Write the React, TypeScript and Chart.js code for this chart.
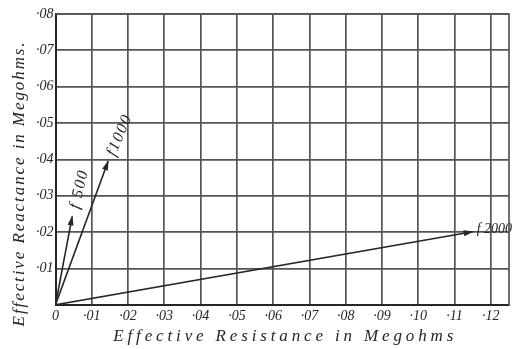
import React, { useEffect, useRef } from "react";
import { Chart, registerables } from "chart.js";

Chart.register(...registerables);

// ---- data ----
const xTickValues = [0, 0.01, 0.02, 0.03, 0.04, 0.05, 0.06, 0.07, 0.08, 0.09, 0.1, 0.11, 0.12];
const xTickLabels = ["0", "·01", "·02", "·03", "·04", "·05", "·06", "·07", "·08", "·09", "·10", "·11", "·12"];
const yTickValues = [0, 0.01, 0.02, 0.03, 0.04, 0.05, 0.06, 0.07, 0.08];
const yTickLabels = ["", "·01", "·02", "·03", "·04", "·05", "·06", "·07", "·08"];
const vectorNames = ["f 500", "f1000", "f 2000"];
const resistance = [0.0046, 0.0145, 0.115];
const reactance = [0.0243, 0.0395, 0.0201];
const xTitle = "Effective Resistance in Megohms";
const yTitle = "Effective Reactance in Megohms.";

// ---- styles ----
const INK = "#262626";
const GRID = "#555555";
const FONT = "'Liberation Serif', 'Times New Roman', serif";
const labelAlong = [true, true, false];
const labelSize = [16, 16, 14];
const labelSpacing = [1.5, 1.5, 0];

function spacedWidth(ctx: CanvasRenderingContext2D, text: string, sp: number) {
  let w = 0;
  for (const ch of text) w += ctx.measureText(ch).width;
  return w + sp * (text.length - 1);
}

function drawSpaced(ctx: CanvasRenderingContext2D, text: string, x: number, y: number, sp: number, align: "center" | "left") {
  const total = spacedWidth(ctx, text, sp);
  let cx = align === "center" ? x - total / 2 : x;
  ctx.textAlign = "left";
  for (const ch of text) {
    ctx.fillText(ch, cx, y);
    cx += ctx.measureText(ch).width + sp;
  }
}

const framePlugin = {
  id: "frame",
  afterDraw(chart: any) {
    const { ctx, chartArea: a } = chart;
    ctx.save();
    ctx.strokeStyle = GRID;
    ctx.lineWidth = 1.7;
    ctx.beginPath();
    ctx.moveTo(a.left, a.top);
    ctx.lineTo(a.right, a.top);
    ctx.lineTo(a.right, a.bottom);
    ctx.stroke();
    ctx.restore();

    // axis titles
    ctx.save();
    ctx.fillStyle = INK;
    ctx.font = `italic 17px ${FONT}`;
    ctx.textBaseline = "alphabetic";
    const xTarget = 340;
    const xsp = (xTarget - spacedWidth(ctx, xTitle, 0)) / (xTitle.length - 1);
    drawSpaced(ctx, xTitle, (a.left + a.right) / 2 + 1, a.bottom + 36, xsp, "center");
    ctx.translate(24, (a.top + a.bottom) / 2 + 25);
    ctx.rotate(-Math.PI / 2);
    const yTarget = 284;
    const ysp = (yTarget - spacedWidth(ctx, yTitle, 0)) / (yTitle.length - 1);
    drawSpaced(ctx, yTitle, 0, 0, ysp, "center");
    ctx.restore();
  },
};

const arrowPlugin = {
  id: "arrows",
  afterDatasetsDraw(chart: any) {
    const ctx: CanvasRenderingContext2D = chart.ctx;
    chart.data.datasets.forEach((_ds: any, i: number) => {
      const meta = chart.getDatasetMeta(i);
      const p0 = meta.data[0];
      const p1 = meta.data[1];
      const ang = Math.atan2(p1.y - p0.y, p1.x - p0.x);
      ctx.save();
      ctx.fillStyle = INK;
      ctx.translate(p1.x, p1.y);
      ctx.rotate(ang);
      ctx.beginPath();
      ctx.moveTo(1, 0);
      ctx.lineTo(-9, -3);
      ctx.lineTo(-9, 3);
      ctx.closePath();
      ctx.fill();
      ctx.restore();

      ctx.save();
      ctx.fillStyle = INK;
      ctx.font = `italic ${labelSize[i]}px ${FONT}`;
      ctx.textBaseline = "middle";
      if (labelAlong[i]) {
        const dx = Math.cos(ang), dy = Math.sin(ang);
        ctx.translate(p1.x + dx * 27 + 2, p1.y + dy * 27);
        ctx.rotate(ang + 0.05);
        drawSpaced(ctx, vectorNames[i], 0, 0, labelSpacing[i], "center");
      } else {
        drawSpaced(ctx, vectorNames[i], p1.x + 4, p1.y - 2, labelSpacing[i], "left");
      }
      ctx.restore();
    });
  },
};

export default function App() {
  const ref = useRef<HTMLCanvasElement | null>(null);
  useEffect(() => {
    if (!ref.current) return;
    const datasets = vectorNames.map((name, i) => ({
      label: name,
      data: [
        { x: 0, y: 0 },
        { x: resistance[i], y: reactance[i] },
      ],
      showLine: true,
      borderColor: INK,
      borderWidth: 1.6,
      pointRadius: 0,
      fill: false,
    }));
    const tickFont = { family: FONT, size: 14, style: "italic" as const };
    const chart = new Chart(ref.current, {
      type: "scatter",
      data: { datasets },
      plugins: [arrowPlugin, framePlugin],
      options: {
        animation: false,
        responsive: false,
        layout: { padding: { top: 14, right: 7, left: 0, bottom: 0 } },
        plugins: { legend: { display: false }, tooltip: { enabled: false } },
        scales: {
          x: {
            type: "linear",
            min: 0,
            max: 0.125,
            afterBuildTicks: (s: any) => {
              s.ticks = xTickValues.map((v) => ({ value: v }));
            },
            afterFit: (s: any) => {
              s.height = 44.2;
            },
            ticks: {
              autoSkip: false,
              maxRotation: 0,
              padding: 3,
              color: INK,
              font: tickFont,
              callback: (_v: any, i: number) => xTickLabels[i],
            },
            grid: { color: GRID, lineWidth: 1.7, drawTicks: false },
            border: { display: true, color: INK, width: 2 },
          },
          y: {
            type: "linear",
            min: 0,
            max: 0.08,
            afterBuildTicks: (s: any) => {
              s.ticks = yTickValues.map((v) => ({ value: v }));
            },
            afterFit: (s: any) => {
              s.width = 55.5;
            },
            ticks: {
              autoSkip: false,
              padding: 2,
              color: INK,
              font: tickFont,
              callback: (_v: any, i: number) => yTickLabels[i],
            },
            grid: { color: GRID, lineWidth: 1.7, drawTicks: false },
            border: { display: true, color: INK, width: 2 },
          },
        },
      },
    });
    return () => chart.destroy();
  }, []);
  return (
    <div style={{ position: "absolute", left: 0, top: 0, width: 516, height: 349, background: "#fff" }}>
      <canvas ref={ref} width={516} height={349} style={{ display: "block" }} />
    </div>
  );
}
